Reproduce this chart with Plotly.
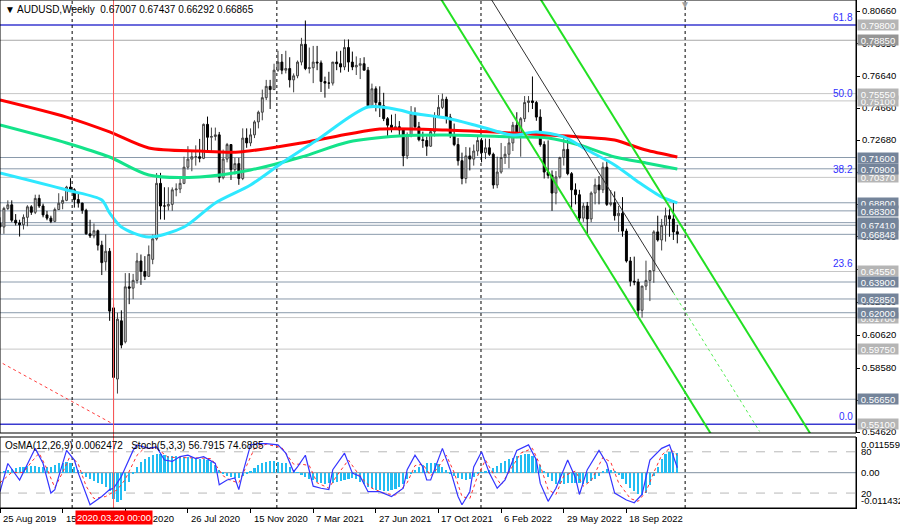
import pandas as pd
import plotly.graph_objects as go

# ---------------- data ----------------
header_text = "▼ AUDUSD,Weekly  0.67007 0.67437 0.66292 0.66865"
indicator_text = "OsMA(12,26,9) 0.0062472   Stoch(5,3,3) 56.7915 74.6885"

first_week = "2019-08-25"
opens = [0.6755,0.6730,0.6845,0.6867,0.6772,0.6755,0.6744,0.6790,0.6855,0.6821,
         0.6907,0.6860,0.6805,0.6785,0.6765,0.6838,0.6877,0.6895,0.6977,0.6960,
         0.6900,0.6878,0.6833,0.6688,0.6675,0.6707,0.6618,0.6515,0.6580,0.6230,
         0.5790,0.6150,0.6020,0.6360,0.6352,0.6400,0.6520,0.6455,0.6425,0.6530,
         0.6657,0.7000,0.6860,0.6860,0.6870,0.6960,0.6965,0.7000,0.7100,0.7150,
         0.7165,0.7165,0.7155,0.7365,0.7285,0.7290,0.7300,0.7035,0.7150,0.7240,
         0.7085,0.7122,0.7030,0.7280,0.7250,0.7300,0.7380,0.7440,0.7530,0.7600,
         0.7580,0.7700,0.7750,0.7700,0.7710,0.7640,0.7665,0.7750,0.7860,0.7710,
         0.7715,0.7750,0.7745,0.7630,0.7620,0.7620,0.7750,0.7740,0.7720,0.7840,
         0.7750,0.7720,0.7730,0.7740,0.7700,0.7480,0.7585,0.7500,0.7480,0.7400,
         0.7360,0.7340,0.7350,0.7330,0.7170,0.7300,0.7430,0.7350,0.7270,0.7265,
         0.7230,0.7320,0.7420,0.7470,0.7520,0.7410,0.7300,0.7240,0.7140,0.7030,
         0.7170,0.7150,0.7200,0.7265,0.7190,0.7220,0.7180,0.6990,0.7070,0.7160,
         0.7180,0.7250,0.7360,0.7300,0.7400,0.7500,0.7510,0.7500,0.7410,0.7240,
         0.7070,0.7050,0.6940,0.7040,0.7160,0.7210,0.7060,0.6960,0.6930,0.6785,
         0.6860,0.6780,0.6940,0.6990,0.6960,0.7100,0.6870,0.6880,0.6800,0.6815,
         0.6705,0.6520,0.6395,0.6390,0.6215,0.6365,0.6400,0.6460,0.6700,0.6650,
         0.6740,0.6800,0.6780,0.67007]
highs = [0.6790,0.6855,0.6895,0.6895,0.6810,0.6775,0.6808,0.6865,0.6865,0.6930,
         0.6930,0.6875,0.6830,0.6800,0.6850,0.6939,0.6920,0.6985,0.7032,0.6970,
         0.6938,0.6880,0.6843,0.6775,0.6752,0.6714,0.6645,0.6685,0.6600,0.6255,
         0.6200,0.6215,0.6445,0.6445,0.6440,0.6570,0.6560,0.6550,0.6616,0.6683,
         0.7064,0.7065,0.6976,0.6976,0.6975,0.7000,0.7030,0.7165,0.7230,0.7195,
         0.7235,0.7275,0.7370,0.7413,0.7345,0.7345,0.7318,0.7209,0.7250,0.7243,
         0.7158,0.7158,0.7340,0.7340,0.7340,0.7390,0.7450,0.7580,0.7640,0.7640,
         0.7740,0.7820,0.7800,0.7820,0.7780,0.7680,0.7760,0.7900,0.8007,0.7840,
         0.7850,0.7850,0.7760,0.7660,0.7690,0.7745,0.7816,0.7820,0.7890,0.7890,
         0.7815,0.7785,0.7775,0.7780,0.7720,0.7617,0.7600,0.7600,0.7560,0.7410,
         0.7425,0.7430,0.7385,0.7340,0.7315,0.7478,0.7470,0.7380,0.7320,0.7290,
         0.7325,0.7440,0.7546,0.7555,0.7536,0.7430,0.7370,0.7280,0.7190,0.7225,
         0.7222,0.7240,0.7290,0.7280,0.7277,0.7275,0.7190,0.7165,0.7250,0.7230,
         0.7285,0.7380,0.7440,0.7410,0.7540,0.7540,0.7661,0.7510,0.7458,0.7260,
         0.7266,0.7080,0.7076,0.7165,0.7280,0.7284,0.7070,0.7000,0.6960,0.6880,
         0.6885,0.6950,0.7030,0.7045,0.7130,0.7136,0.6958,0.6950,0.6860,0.6915,
         0.6720,0.6545,0.6547,0.6410,0.6363,0.6522,0.6460,0.6710,0.6800,0.6780,
         0.6850,0.6840,0.6893,0.67437]
lows = [0.6688,0.6688,0.6835,0.6760,0.6740,0.6671,0.6715,0.6735,0.6805,0.6810,
        0.6848,0.6790,0.6772,0.6754,0.6760,0.6836,0.6840,0.6890,0.6950,0.6850,
        0.6850,0.6812,0.6683,0.6662,0.6660,0.6585,0.6433,0.6460,0.6150,0.5510,
        0.5700,0.5980,0.6010,0.6253,0.6284,0.6380,0.6372,0.6402,0.6422,0.6500,
        0.6647,0.6777,0.6775,0.6832,0.6830,0.6920,0.6940,0.6995,0.7085,0.7075,
        0.7110,0.7130,0.7150,0.7192,0.7196,0.7265,0.7005,0.7025,0.7130,0.7021,
        0.7055,0.6991,0.7020,0.7220,0.7230,0.7280,0.7340,0.7390,0.7515,0.7460,
        0.7580,0.7690,0.7675,0.7680,0.7593,0.7563,0.7650,0.7730,0.7700,0.7680,
        0.7620,0.7700,0.7565,0.7530,0.7585,0.7605,0.7700,0.7685,0.7700,0.7690,
        0.7700,0.7670,0.7645,0.7700,0.7475,0.7477,0.7445,0.7410,0.7385,0.7290,
        0.7315,0.7330,0.7290,0.7106,0.7150,0.7285,0.7335,0.7260,0.7220,0.7170,
        0.7225,0.7290,0.7415,0.7460,0.7370,0.7280,0.7230,0.7110,0.6994,0.7000,
        0.7080,0.7110,0.7170,0.7130,0.7150,0.7170,0.6967,0.6970,0.7060,0.7120,
        0.7094,0.7200,0.7280,0.7165,0.7380,0.7440,0.7460,0.7387,0.7227,0.7030,
        0.7030,0.6830,0.6870,0.7030,0.7110,0.7050,0.6850,0.6870,0.6763,0.6762,
        0.6680,0.6760,0.6870,0.6870,0.6940,0.6860,0.6858,0.6770,0.6700,0.6670,
        0.6510,0.6363,0.6370,0.6170,0.6170,0.6340,0.6272,0.6385,0.6640,0.6585,
        0.6640,0.6670,0.6650,0.66292]
closes = [0.6730,0.6845,0.6867,0.6772,0.6755,0.6744,0.6790,0.6855,0.6821,0.6907,
          0.6860,0.6805,0.6785,0.6765,0.6838,0.6877,0.6895,0.6977,0.6960,0.6900,
          0.6878,0.6833,0.6688,0.6675,0.6707,0.6618,0.6510,0.6580,0.6210,0.5800,
          0.6160,0.6000,0.6360,0.6352,0.6400,0.6520,0.6455,0.6425,0.6560,0.6657,
          0.7000,0.6860,0.6860,0.6870,0.6960,0.6965,0.7000,0.7100,0.7150,0.7165,
          0.7165,0.7155,0.7365,0.7285,0.7290,0.7300,0.7035,0.7150,0.7240,0.7085,
          0.7122,0.7030,0.7280,0.7250,0.7300,0.7380,0.7440,0.7530,0.7600,0.7580,
          0.7700,0.7750,0.7700,0.7710,0.7640,0.7665,0.7750,0.7860,0.7710,0.7715,
          0.7750,0.7745,0.7630,0.7620,0.7620,0.7750,0.7740,0.7720,0.7840,0.7750,
          0.7720,0.7730,0.7740,0.7700,0.7480,0.7585,0.7500,0.7480,0.7400,0.7360,
          0.7340,0.7350,0.7330,0.7170,0.7300,0.7430,0.7350,0.7270,0.7265,0.7230,
          0.7320,0.7420,0.7470,0.7520,0.7410,0.7300,0.7240,0.7140,0.7030,0.7170,
          0.7150,0.7200,0.7265,0.7190,0.7220,0.7180,0.6990,0.7070,0.7160,0.7180,
          0.7250,0.7360,0.7300,0.7400,0.7500,0.7510,0.7500,0.7410,0.7240,0.7070,
          0.7050,0.6940,0.7040,0.7160,0.7210,0.7060,0.6960,0.6930,0.6785,0.6860,
          0.6780,0.6940,0.6990,0.6960,0.7100,0.6870,0.6880,0.6800,0.6815,0.6705,
          0.6520,0.6395,0.6390,0.6215,0.6365,0.6400,0.6460,0.6700,0.6650,0.6740,
          0.6800,0.6780,0.6700,0.66865]

# moving averages read at selected bars (bar number, price)
ma_fast_bars = [0,17,26,28,31,38,47,55,64,72,81,94,102,105,114,123,131,137,144,150,157,163,169,173]
ma_fast_vals = [0.7064,0.6959,0.6897,0.6817,0.6730,0.6668,0.6730,0.6879,0.6990,0.7126,0.7268,0.7472,
                0.7454,0.7435,0.7404,0.7349,0.7299,0.7318,0.7287,0.7206,0.7114,0.7009,0.6916,0.6879]
ma_mid_bars = [0,17,28,38,51,64,77,89,102,114,131,140,148,157,165,173]
ma_mid_vals = [0.7361,0.7250,0.7163,0.7052,0.7040,0.7083,0.7163,0.7256,0.7293,0.7299,0.7287,0.7281,
               0.7237,0.7163,0.7126,0.7089]
ma_slow_bars = [0,17,28,38,51,61,77,89,97,114,131,148,157,161,165,173]
ma_slow_vals = [0.7516,0.7410,0.7318,0.7219,0.7200,0.7194,0.7250,0.7305,0.7336,0.7330,0.7311,0.7287,
                0.7268,0.7237,0.7206,0.7163]

# OsMA histogram, one value per bar
osma = [0.0002,0.0006,0.0010,0.0013,0.0016,0.0018,0.0020,0.0021,0.0022,0.0021,
        0.0020,0.0018,0.0017,0.0020,0.0025,0.0030,0.0033,0.0034,0.0030,0.0020,
        0.0008,-0.0005,-0.0015,-0.0022,-0.0027,-0.0032,-0.0037,-0.0045,-0.0060,-0.0085,
        -0.0096,-0.0090,-0.0060,-0.0030,-0.0005,0.0020,0.0035,0.0045,0.0052,0.0058,
        0.0062,0.0060,0.0057,0.0055,0.0054,0.0053,0.0052,0.0052,0.0050,0.0048,
        0.0047,0.0045,0.0045,0.0040,0.0035,0.0025,0.0010,-0.0005,-0.0012,-0.0015,
        -0.0017,-0.0016,-0.0012,-0.0005,0.0005,0.0015,0.0025,0.0030,0.0035,0.0037,
        0.0037,0.0035,0.0033,0.0030,0.0020,0.0010,0.0002,-0.0008,-0.0015,-0.0020,
        -0.0025,-0.0030,-0.0033,-0.0035,-0.0034,-0.0032,-0.0030,-0.0027,-0.0024,-0.0020,
        -0.0017,-0.0020,-0.0030,-0.0038,-0.0045,-0.0050,-0.0055,-0.0057,-0.0058,-0.0060,
        -0.0057,-0.0052,-0.0045,-0.0035,-0.0020,-0.0005,0.0010,0.0020,0.0025,0.0030,
        0.0032,0.0030,0.0028,0.0020,0.0008,-0.0005,-0.0012,-0.0018,-0.0022,-0.0025,
        -0.0022,-0.0015,-0.0005,0.0002,0.0005,0.0010,0.0015,0.0022,0.0030,0.0037,
        0.0043,0.0048,0.0053,0.0058,0.0060,0.0060,0.0055,0.0043,0.0025,0.0005,
        -0.0015,-0.0028,-0.0035,-0.0037,-0.0035,-0.0033,-0.0032,-0.0032,-0.0033,-0.0035,
        -0.0033,-0.0028,-0.0020,-0.0010,0.0005,0.0012,0.0010,0.0005,-0.0008,-0.0020,
        -0.0035,-0.0048,-0.0060,-0.0068,-0.0072,-0.0065,-0.0040,-0.0010,0.0020,0.0045,
        0.0060,0.0068,0.0065,0.0062472]

# Stochastic main / signal read at turning bars (bar number, value)
stoch_main_bars = [0,2,5,7,9,11,13,14,17,19,20,23,26,28,29,31,34,35,38,40,42,44,46,48,50,52,55,56,58,60,
                   61,62,64,66,68,71,73,75,76,78,80,82,84,85,88,90,92,94,97,100,103,104,106,108,109,110,
                   112,113,115,117,118,120,121,123,125,127,129,131,132,135,137,138,140,142,145,147,148,
                   150,153,155,157,160,162,164,166,169,171,173]
stoch_main_vals = [22,63,39,63,85,63,20,25,82,68,49,3,15,25,27,44,82,90,85,87,68,66,73,75,70,73,63,32,39,42,
                   25,49,90,92,92,90,78,51,58,75,30,27,25,54,78,49,44,22,22,15,27,54,75,58,39,39,
                   68,85,54,15,3,22,58,80,49,27,39,68,82,90,68,34,8,27,68,42,18,
                   54,82,63,20,10,6,18,68,85,90,56.79]
stoch_sig_bars = [0,3,6,8,10,12,14,16,18,20,22,24,27,30,32,35,37,40,43,47,51,54,57,59,61,63,65,68,72,75,
                  77,79,81,84,86,89,91,93,95,98,101,104,106,108,110,112,114,116,118,120,122,124,126,128,
                  130,133,136,138,140,142,144,147,149,151,154,156,158,161,163,165,167,169,171,173]
stoch_sig_vals = [35,50,50,65,78,55,28,50,75,62,30,12,15,25,40,75,86,85,72,72,71,70,45,38,35,60,85,91,86,62,
                  62,60,35,27,45,68,52,38,27,20,17,35,60,62,45,58,75,50,15,12,45,68,48,32,
                  50,78,85,60,25,18,45,52,30,38,72,65,35,12,8,22,50,75,85,74.69]

# horizontal levels (drawing order: later ones sit on top)
level_prices = [0.79800,0.78850,0.75100,0.75550,0.70370,0.71600,0.70900,0.68800,0.68300,0.67570,
                0.67410,0.66848,0.64550,0.63900,0.62850,0.61700,0.62000,0.59750,0.56650,0.55100]
level_texts = ["0.79800","0.78850","0.75100","0.75550","0.70370","0.71600","0.70900","0.68800","0.68300","0.67570",
               "0.67410","0.66848","0.64550","0.63900","0.62850","0.61700","0.62000","0.59750","0.56650","0.55100"]
level_kinds = ["blue","gray","silver","silver","silver","slate","slate","slate","slate","slate",
               "slate","slate","silver","slate","slate","silver","slate","silver","slate","blue"]

fib_tags = ["61.8","50.0","38.2","23.6","0.0"]
fib_tag_prices = [0.7980,0.7510,0.7037,0.6455,0.5510]

# channel and trend lines (anchor dates, prices)
chan_lower_dates = ["2021-10-10","2023-02-19"]; chan_lower_prices = [0.8204,0.5435]
chan_upper_dates = ["2022-04-03","2023-08-13"]; chan_upper_prices = [0.8220,0.5451]
chan_mid_dates = ["2022-01-09","2022-12-11"]; chan_mid_prices = [0.8196,0.6324]
chan_ext_dates = ["2022-12-11","2023-05-14"]; chan_ext_prices = [0.6324,0.5466]
red_trend_dates = ["2019-08-11","2020-03-15"]; red_trend_prices = [0.5922,0.5510]

year_marks = ["2020-01-01","2021-01-01","2022-01-01","2023-01-01"]
vline_date = "2020-03-15"
vline_label = "2020.03.20 00:00"

x_tick_dates = ["2019-08-25","2019-12-15","2020-04-05","2020-07-26","2020-11-15","2021-03-07",
                "2021-06-27","2021-10-17","2022-02-06","2022-05-29","2022-09-18"]
x_tick_texts = ["25 Aug 2019","15 Dec 2019","5 Apr 2020","26 Jul 2020","15 Nov 2020","7 Mar 2021",
                "27 Jun 2021","17 Oct 2021","6 Feb 2022","29 May 2022","18 Sep 2022"]
x_range = ["2019-08-25", "2023-11-02 12:00"]

price_ticks = [0.80660,0.78650,0.76640,0.74660,0.72680,0.70660,0.68680,0.66700,0.64680,0.62660,
               0.60620,0.58580,0.56600,0.54620]
price_range = [0.54562, 0.81340]
osma_range = [-0.011432, 0.0115593]
stoch_range = [-1.7, 101.5]
ind_labels = ["0.0115593", "80", "0.00", "20", "-0.011432"]

# ---------------- figure ----------------
FONT = "Liberation Sans"
weeks = pd.date_range(first_week, periods=len(closes), freq="7D")
main_bottom = (508 - 433) / 508
ind_top = (508 - 437) / 508

fig = go.Figure()
fig.add_trace(go.Candlestick(
    x=weeks, open=opens, high=highs, low=lows, close=closes,
    increasing=dict(line=dict(color="#404040", width=1), fillcolor="#d0d0d0"),
    decreasing=dict(line=dict(color="#000000", width=1), fillcolor="#000000"),
    whiskerwidth=0, showlegend=False, xaxis="x", yaxis="y"))

for bars, vals, col in [(ma_mid_bars, ma_mid_vals, "#14e38a"),
                        (ma_slow_bars, ma_slow_vals, "#ff0000"),
                        (ma_fast_bars, ma_fast_vals, "#2ee8ff")]:
    fig.add_trace(go.Scatter(x=weeks[bars], y=vals, mode="lines",
                             line=dict(color=col, width=3, shape="spline", smoothing=0.8),
                             showlegend=False, xaxis="x", yaxis="y"))

for dts, prs, col, w, dash in [(chan_lower_dates, chan_lower_prices, "#22e022", 2, "solid"),
                               (chan_upper_dates, chan_upper_prices, "#22e022", 2, "solid"),
                               (chan_mid_dates, chan_mid_prices, "#303030", 1, "solid"),
                               (chan_ext_dates, chan_ext_prices, "#55ee55", 1, "dot"),
                               (red_trend_dates, red_trend_prices, "#ff4040", 1, "dot")]:
    fig.add_trace(go.Scatter(x=dts, y=prs, mode="lines", line=dict(color=col, width=w, dash=dash),
                             showlegend=False, xaxis="x", yaxis="y"))

fig.add_trace(go.Bar(x=weeks, y=osma, marker=dict(color="#22bdf2", line=dict(width=0)),
                     width=7 * 0.55 * 86400000, showlegend=False, xaxis="x", yaxis="y2"))
fig.add_trace(go.Scatter(x=weeks[stoch_sig_bars], y=stoch_sig_vals, mode="lines",
                         line=dict(color="#ff3030", width=1, dash="dot"), showlegend=False,
                         xaxis="x", yaxis="y3"))
fig.add_trace(go.Scatter(x=weeks[stoch_main_bars], y=stoch_main_vals, mode="lines",
                         line=dict(color="#3535ff", width=1.2), showlegend=False,
                         xaxis="x", yaxis="y3"))

kind_style = {"blue": ("#3a3ad0", 1.5, "#b5b5b5"), "silver": ("#c6c6c6", 1, "#b5b5b5"),
              "slate": ("#8a9aab", 1, "#74849a"), "gray": ("#a8a8a8", 1, "#959595")}

shapes = []
for p, k in zip(level_prices, level_kinds):
    lc, lw, _ = kind_style[k]
    shapes.append(dict(type="line", xref="paper", x0=0, x1=1, yref="y", y0=p, y1=p,
                       line=dict(color=lc, width=lw), layer="below"))
for d in year_marks:
    shapes.append(dict(type="line", xref="x", x0=d, x1=d, yref="paper", y0=0, y1=1,
                       line=dict(color="#000000", width=1, dash="dot"), layer="below"))
shapes.append(dict(type="line", xref="x", x0=vline_date, x1=vline_date, yref="paper", y0=0, y1=1,
                   line=dict(color="#ff5a5a", width=1), layer="above"))
shapes.append(dict(type="line", xref="paper", x0=0, x1=1, yref="y3", y0=80, y1=80,
                   line=dict(color="#b8b8b8", width=1, dash="dash"), layer="below"))
shapes.append(dict(type="line", xref="paper", x0=0, x1=1, yref="y3", y0=20, y1=20,
                   line=dict(color="#b8b8b8", width=1, dash="dash"), layer="below"))
shapes.append(dict(type="line", xref="paper", x0=0, x1=1, yref="y2", y0=0, y1=0,
                   line=dict(color="#8090a0", width=1), layer="below"))
shapes.append(dict(type="rect", xref="paper", x0=0, x1=1, yref="paper", y0=main_bottom, y1=1,
                   line=dict(color="#000000", width=1), layer="above"))
shapes.append(dict(type="rect", xref="paper", x0=0, x1=1, yref="paper", y0=0, y1=ind_top,
                   line=dict(color="#000000", width=1), layer="above"))

ann = []
ann.append(dict(text=header_text, xref="paper", x=0, xanchor="left", xshift=3, yref="paper", y=1,
                yanchor="top", yshift=-2, showarrow=False, font=dict(family=FONT, size=10, color="#000000")))
ann.append(dict(text=indicator_text, xref="paper", x=0, xanchor="left", xshift=3, yref="paper", y=ind_top,
                yanchor="top", yshift=-1, showarrow=False, font=dict(family=FONT, size=10, color="#000000")))
for t, p in zip(fib_tags, fib_tag_prices):
    ann.append(dict(text=t, xref="paper", x=1, xanchor="right", xshift=-1, yref="y", y=p,
                    yanchor="bottom", showarrow=False, font=dict(family=FONT, size=10, color="#2f2fff")))
for p, t, k in zip(level_prices, level_texts, level_kinds):
    ann.append(dict(text=t, xref="paper", x=1, xanchor="left", xshift=1, yref="y", y=p, yanchor="middle",
                    showarrow=False, bgcolor=kind_style[k][2], width=40, height=10, borderpad=0,
                    font=dict(family=FONT, size=9.5, color="#ffffff")))
ind_pos = [("y2", osma_range[1], "top"), ("y3", 80, "middle"), ("y2", 0, "middle"),
           ("y3", 20, "middle"), ("y2", osma_range[0], "bottom")]
for t, (yr, yv, ya) in zip(ind_labels, ind_pos):
    ann.append(dict(text=t, xref="paper", x=1, xanchor="left", xshift=3, yref=yr, y=yv, yanchor=ya,
                    showarrow=False, font=dict(family=FONT, size=9.5, color="#000000")))
for d, t in zip(x_tick_dates, x_tick_texts):
    ann.append(dict(text=t, xref="x", x=d, xanchor="left", xshift=1, yref="paper", y=0, yanchor="top",
                    yshift=-3, showarrow=False, font=dict(family=FONT, size=9.5, color="#000000")))
ann.append(dict(text=vline_label, xref="x", x=vline_date, xanchor="center", yref="paper", y=0,
                yanchor="top", yshift=-2, showarrow=False, bgcolor="#ff0000", borderpad=1,
                font=dict(family=FONT, size=9.5, color="#ffffff")))
ann.append(dict(text="▼", xref="x", x=year_marks[-1], xanchor="center", yref="paper", y=1,
                yanchor="top", yshift=3, showarrow=False, font=dict(family=FONT, size=10, color="#a0a0a0")))

fig.update_layout(
    width=900, height=528, margin=dict(l=0, r=44, t=0, b=20),
    paper_bgcolor="#ffffff", plot_bgcolor="#ffffff", showlegend=False, hovermode=False,
    bargap=0,
    xaxis=dict(domain=[0, 1], anchor="y2", type="date", range=x_range, showgrid=False, zeroline=False,
               rangeslider=dict(visible=False), tickvals=x_tick_dates, showticklabels=False,
               ticks="outside", ticklen=4, tickcolor="#000000", showline=True, linecolor="#000000"),
    yaxis=dict(domain=[main_bottom, 1], anchor="x", side="right", range=price_range,
               tickvals=price_ticks, ticktext=["%.5f" % v for v in price_ticks],
               ticks="outside", ticklen=3, tickcolor="#000000",
               tickfont=dict(family=FONT, size=9.5, color="#000000"),
               showgrid=False, zeroline=False, showline=True, linecolor="#000000"),
    yaxis2=dict(domain=[0, ind_top], anchor="x", side="right", range=osma_range, showticklabels=False,
                ticks="", showgrid=False, zeroline=False, showline=True, linecolor="#000000"),
    yaxis3=dict(overlaying="y2", anchor="x", side="right", range=stoch_range, visible=False),
    shapes=shapes, annotations=ann,
)

fig.write_html("out.html", config={"displayModeBar": False},
               post_script="document.body.style.margin='0px';document.body.style.overflow='hidden';")
